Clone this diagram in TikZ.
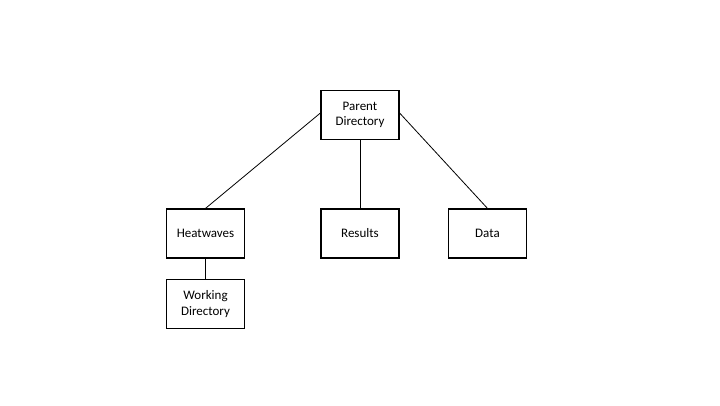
\documentclass[tikz,border=0pt]{standalone}
\usepackage{fontspec}
\setmainfont{Carlito}
\begin{document}
\begin{tikzpicture}[x=1pt,y=-1pt,
  box/.style={draw=black,line width=1.2pt,fill=white,minimum width=78pt,minimum height=49pt,inner sep=1pt,align=center,font=\fontsize{13}{15.5}\selectfont},
  conn/.style={draw=black,line width=0.8pt}]
\useasboundingbox[fill=white] (0,0) rectangle (720,405);
\node[box] (p) at (360,115) {Parent\\Directory};
\node[box] (h) at (205.5,233.5) {Heatwaves};
\node[box] (r) at (360,233.5) {Results};
\node[box] (d) at (487.5,233.5) {Data};
\node[box] (w) at (205.5,304) {Working\\Directory};
\draw[conn] ([yshift=2pt]p.west) -- (h.north);
\draw[conn] (p.south) -- (r.north);
\draw[conn] ([yshift=2pt]p.east) -- (d.north);
\draw[conn] (h.south) -- (w.north);
\end{tikzpicture}
\end{document}
